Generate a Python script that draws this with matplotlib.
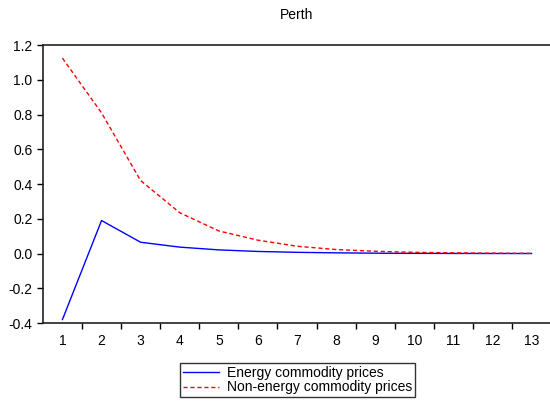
import numpy as np
from matplotlib import pyplot as plt

plt.rcParams['font.family'] = ['Liberation Sans', 'DejaVu Sans']

periods = np.arange(1, 14)
energy = [-0.38, 0.19, 0.065, 0.037, 0.021, 0.012, 0.007, 0.004, 0.002, 0.001, 0.0005, 0.0002, 0.0001]
non_energy = [1.125, 0.81, 0.42, 0.235, 0.13, 0.077, 0.042, 0.023, 0.013, 0.007, 0.004, 0.002, 0.001]

fig = plt.figure(figsize=(5.5, 4.03), dpi=100)
ax = fig.add_axes([0.078, 0.1985, 0.924, 0.6895])

ax.plot(periods, energy, color='blue', lw=1.0, label='Energy commodity prices')
ax.plot(periods, non_energy, color='red', lw=1.0, ls=(0, (3, 2)), label='Non-energy commodity prices')

ax.set_xlim(0.5, 13.5)
ax.set_ylim(-0.4, 1.2)
ax.set_yticks(np.arange(-0.4, 1.21, 0.2))
ax.set_yticklabels(['%.1f' % v for v in np.arange(-0.4, 1.21, 0.2)])
ax.set_xticks(periods)
ax.set_xticklabels([str(p) for p in periods])
ax.set_xticks(np.arange(1.5, 13, 1), minor=True)
ax.tick_params(axis='x', which='major', length=0, pad=8, labelsize=10)
ax.tick_params(axis='x', which='minor', length=4, width=1, direction='out')
ax.tick_params(axis='y', length=4, width=1, direction='out', labelsize=10)
ax.spines['right'].set_visible(False)
for s in ['left', 'top', 'bottom']:
    ax.spines[s].set_linewidth(1.2)
    ax.spines[s].set_color('#222222')

ax.set_title('Perth', fontsize=10, pad=19)

fig.legend(loc='center', bbox_to_anchor=(0.541, 0.057), frameon=True, fancybox=False,
           edgecolor='black', fontsize=10, handlelength=2.6, borderpad=0.2,
           labelspacing=0.05, borderaxespad=0, handletextpad=0.6)

plt.savefig('out.png', dpi=100)
